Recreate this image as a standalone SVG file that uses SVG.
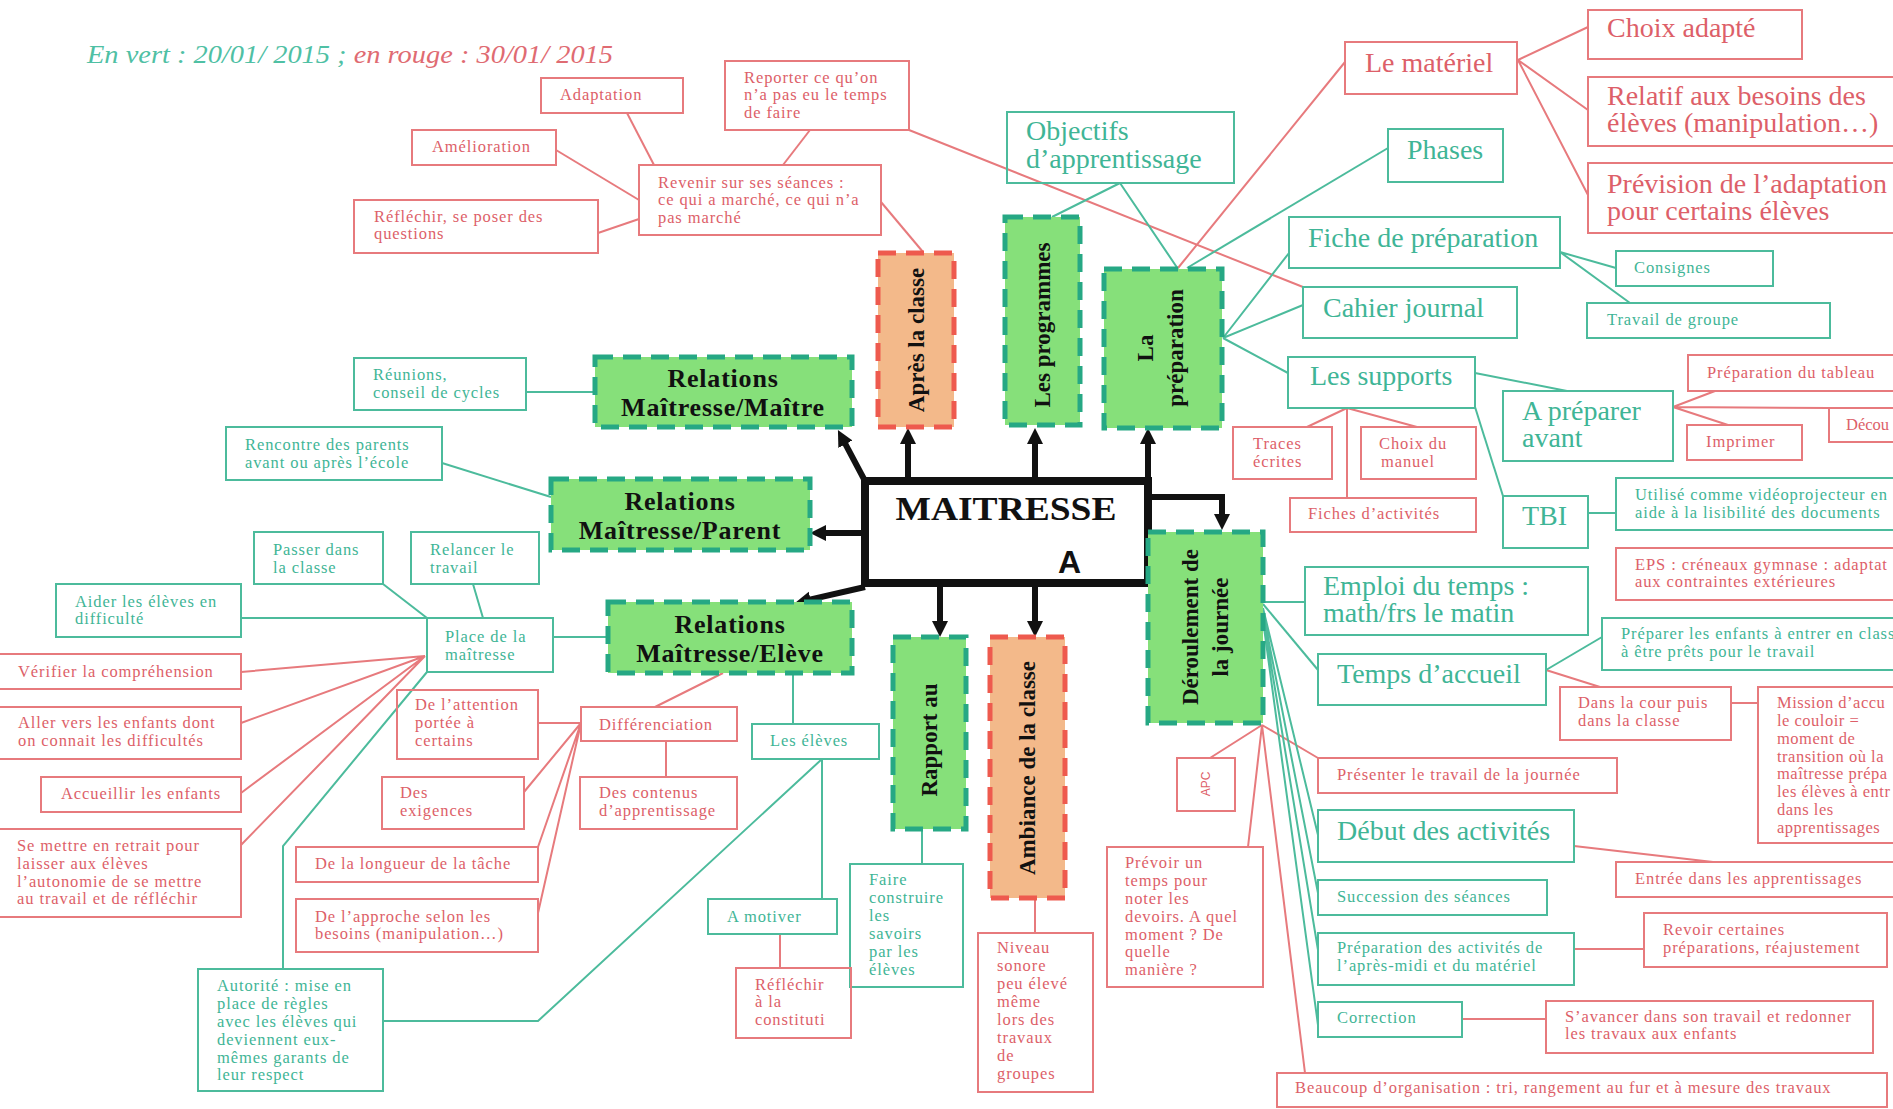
<svg xmlns="http://www.w3.org/2000/svg" width="1893" height="1109" viewBox="0 0 1893 1109">
<style>
text{font-family:"Liberation Serif","Times New Roman",serif}
.t{fill:#3fb596}
.r{fill:#dd5f69}
.s{font-size:16.5px;letter-spacing:0.9px}
.b{font-size:28px}
.bg{fill:none;stroke:#4cbb9c;stroke-width:2}
.br{fill:none;stroke:#e77a7d;stroke-width:2}
.lg{stroke:#4cbb9c;stroke-width:2;fill:none}
.lr{stroke:#e77a7d;stroke-width:2;fill:none}
.ng{fill:#86e07a;stroke:#26a884;stroke-width:5;stroke-dasharray:18 10}
.no{fill:#f3b98a;stroke:#ee5a4e;stroke-width:5;stroke-dasharray:18 10}
.bold{font-weight:bold;font-size:26px;letter-spacing:0.8px;fill:#111;text-anchor:middle}
.rot{font-weight:bold;font-size:23px;fill:#111;text-anchor:middle}
.ar{stroke:#111;stroke-width:6;fill:none}
</style>
<defs>
<marker id="ah" markerUnits="userSpaceOnUse" markerWidth="18" markerHeight="18" refX="2" refY="8" orient="auto">
<path d="M0,0 L16,8 L0,16 z" fill="#111"/>
</marker>
</defs>
<rect width="1893" height="1109" fill="#fff"/>

<g id="title">
<text x="87" y="63" font-size="25" font-style="italic" textLength="526" lengthAdjust="spacingAndGlyphs"><tspan fill="#4fc0a4">En vert : 20/01/ 2015 ; </tspan><tspan fill="#df6b72">en rouge : 30/01/ 2015</tspan></text>
</g>

<g id="connectors">
<g class="lr">
<path d="M627,113 L654,165"/>
<path d="M556,150 L639,200"/>
<path d="M598,233 L639,219"/>
<path d="M810,130 L783,165"/>
<path d="M881,202 L923,252"/>
<path d="M909,130 L1303,287"/>
<path d="M1345,62 L1178,268"/>
<path d="M1518,60 L1588,27 M1518,60 L1588,110 M1518,60 L1588,195"/>
<path d="M1347,408 L1307,427 M1347,408 L1417,427 M1347,408 V498"/>
<path d="M1673,407 L1715,391 M1673,407 L1728,425 M1673,407 L1829,408"/>
<path d="M1546,670 L1600,687"/>
<path d="M1731,703 H1758"/>
<path d="M1262,725 L1210,758 M1262,725 L1248,847 M1262,725 L1305,1073 M1262,725 L1318,758"/>
<path d="M1574,846 L1713,862"/>
<path d="M1574,949 H1644"/>
<path d="M1462,1019 H1546"/>
<path d="M1035,898 V933"/>
<path d="M780,934 V968"/>
<path d="M723,673 L655,707"/>
<path d="M666,741 V777"/>
<path d="M581,723 H538 M581,723 L524,792 M581,723 L538,847 M581,723 L538,913"/>
<path d="M425,656 L241,672 M425,656 L241,723 M425,656 L241,793 M425,656 L241,845"/>
</g>
<g class="lg">
<path d="M1120,183 L1052,217 M1120,183 L1178,269"/>
<path d="M1388,148 L1187,268"/>
<path d="M1223,338 L1289,253 M1223,338 L1303,305 M1223,338 L1288,373"/>
<path d="M1560,252 L1616,268 M1560,252 L1630,303"/>
<path d="M1475,373 L1567,391"/>
<path d="M1475,407 L1503,496"/>
<path d="M1588,513 H1616"/>
<path d="M1263,602 H1305"/>
<path d="M1263,604 L1318,670"/>
<path d="M1546,670 L1602,637"/>
<path d="M1263,608 L1318,835 M1263,612 L1318,893 M1263,616 L1318,950 M1263,620 L1318,1025"/>
<path d="M922,829 V864"/>
<path d="M793,673 V724"/>
<path d="M822,759 V899"/>
<path d="M822,759 L538,1021 H383"/>
<path d="M427,672 L283,846 V969"/>
<path d="M553,637 H608"/>
<path d="M383,584 L427,618"/>
<path d="M473,584 L483,618"/>
<path d="M241,618 H427"/>
<path d="M526,392 H595"/>
<path d="M442,463 L551,497"/>
</g>
<g class="ar" marker-end="url(#ah)">
<path d="M865,481 L844.5,442.4"/>
<path d="M908,481 V442"/>
<path d="M1035,481 V442"/>
<path d="M1148,481 V442"/>
<path d="M1148,497 H1222 V516"/>
<path d="M865,533 H824"/>
<path d="M865,587 L808.6,599.9"/>
<path d="M940,583 V623"/>
<path d="M1035,583 V623"/>
</g>
</g>

<g id="n-maitresse">
<rect x="865" y="481" width="283" height="102" fill="#fff" stroke="#111" stroke-width="8"/>
<text x="1006" y="520" font-size="34" font-weight="bold" text-anchor="middle" fill="#111" textLength="221" lengthAdjust="spacingAndGlyphs">MAITRESSE</text>
<text x="1058" y="573" font-size="32" font-weight="bold" fill="#111" style="font-family:'Liberation Sans',Arial,sans-serif">A</text>
</g>

<g id="n-apres"><rect class="no" x="878" y="253" width="76" height="174"/><text class="rot" x="916" y="348" transform="rotate(-90 916 340)">Après la classe</text></g>
<g id="n-programmes"><rect class="ng" x="1005" y="217" width="75" height="208"/><text class="rot" x="1042" y="333" transform="rotate(-90 1042 325)">Les programmes</text></g>
<g id="n-preparation"><rect class="ng" x="1104" y="269" width="118" height="159"/><text class="rot" transform="rotate(-90 1163 348)"><tspan x="1163" y="338">La</tspan><tspan x="1163" y="368">préparation</tspan></text></g>
<g id="n-relmaitre"><rect class="ng" x="595" y="357" width="257" height="70"/><text class="bold"><tspan x="723" y="387">Relations</tspan><tspan x="723" y="416">Maîtresse/Maître</tspan></text></g>
<g id="n-relparent"><rect class="ng" x="551" y="479" width="259" height="71"/><text class="bold"><tspan x="680" y="510">Relations</tspan><tspan x="680" y="539">Maîtresse/Parent</tspan></text></g>
<g id="n-releleve"><rect class="ng" x="608" y="602" width="244" height="71"/><text class="bold"><tspan x="730" y="633">Relations</tspan><tspan x="730" y="662">Maîtresse/Elève</tspan></text></g>
<g id="n-rapport"><rect class="ng" x="893" y="637" width="73" height="192"/><text class="rot" x="929" y="748" transform="rotate(-90 929 740)">Rapport au</text></g>
<g id="n-ambiance"><rect class="no" x="990" y="637" width="75" height="261"/><text class="rot" x="1027" y="776" transform="rotate(-90 1027 768)">Ambiance de la classe</text></g>
<g id="n-deroulement"><rect class="ng" x="1148" y="532" width="115" height="191"/><text class="rot" transform="rotate(-90 1205 627)"><tspan x="1205" y="620">Déroulement de</tspan><tspan x="1205" y="650">la journée</tspan></text></g>

<g id="n-adaptation"><rect class="br" x="541" y="78" width="142" height="35"/><text class="r s" x="560" y="100">Adaptation</text></g>
<g id="n-amelioration"><rect class="br" x="412" y="130" width="144" height="35"/><text class="r s" x="432" y="152">Amélioration</text></g>
<g id="n-reflechir"><rect class="br" x="354" y="200" width="244" height="53"/><text class="r s"><tspan x="374" y="222">Réfléchir, se poser des</tspan><tspan x="374" y="239">questions</tspan></text></g>
<g id="n-revenir"><rect class="br" x="639" y="165" width="242" height="70"/><text class="r s"><tspan x="658" y="188">Revenir sur ses séances :</tspan><tspan x="658" y="205">ce qui a marché, ce qui n’a</tspan><tspan x="658" y="223">pas marché</tspan></text></g>
<g id="n-reporter"><rect class="br" x="725" y="61" width="184" height="69"/><text class="r s"><tspan x="744" y="83">Reporter ce qu’on</tspan><tspan x="744" y="100">n’a pas eu le temps</tspan><tspan x="744" y="118">de faire</tspan></text></g>

<g id="n-materiel"><rect class="br" x="1345" y="42" width="172" height="52"/><text class="r b" x="1365" y="72">Le matériel</text></g>
<g id="n-choix"><rect class="br" x="1588" y="10" width="214" height="49"/><text class="r b" x="1607" y="37">Choix adapté</text></g>
<g id="n-relatif"><rect class="br" x="1588" y="77" width="310" height="69"/><text class="r b"><tspan x="1607" y="105">Relatif aux besoins des</tspan><tspan x="1607" y="132">élèves (manipulation…)</tspan></text></g>
<g id="n-prevision"><rect class="br" x="1588" y="163" width="310" height="70"/><text class="r b"><tspan x="1607" y="193">Prévision de l’adaptation</tspan><tspan x="1607" y="220">pour certains élèves</tspan></text></g>
<g id="n-objectifs"><rect class="bg" x="1007" y="112" width="227" height="71"/><text class="t b"><tspan x="1026" y="140">Objectifs</tspan><tspan x="1026" y="168">d’apprentissage</tspan></text></g>
<g id="n-phases"><rect class="bg" x="1388" y="129" width="115" height="53"/><text class="t b" x="1407" y="159">Phases</text></g>
<g id="n-fiche"><rect class="bg" x="1289" y="217" width="271" height="51"/><text class="t b" x="1308" y="247">Fiche de préparation</text></g>
<g id="n-cahier"><rect class="bg" x="1303" y="287" width="214" height="51"/><text class="t b" x="1323" y="317">Cahier journal</text></g>
<g id="n-supports"><rect class="bg" x="1288" y="357" width="187" height="51"/><text class="t b" x="1310" y="385">Les supports</text></g>
<g id="n-consignes"><rect class="bg" x="1616" y="251" width="157" height="35"/><text class="t s" x="1634" y="273">Consignes</text></g>
<g id="n-travail"><rect class="bg" x="1587" y="303" width="243" height="35"/><text class="t s" x="1607" y="325">Travail de groupe</text></g>
<g id="n-tableau"><rect class="br" x="1688" y="355" width="210" height="36"/><text class="r s" x="1707" y="378">Préparation du tableau</text></g>
<g id="n-apreparer"><rect class="bg" x="1503" y="391" width="170" height="70"/><text class="t b"><tspan x="1522" y="420">A préparer</tspan><tspan x="1522" y="447">avant</tspan></text></g>
<g id="n-imprimer"><rect class="br" x="1687" y="425" width="115" height="35"/><text class="r s" x="1706" y="447">Imprimer</text></g>
<g id="n-decou"><rect class="br" x="1829" y="408" width="70" height="34"/><text class="r" font-size="16.5" x="1846" y="430">Décou</text></g>
<g id="n-traces"><rect class="br" x="1233" y="427" width="99" height="52"/><text class="r s"><tspan x="1253" y="449">Traces</tspan><tspan x="1253" y="467">écrites</tspan></text></g>
<g id="n-choixmanuel"><rect class="br" x="1361" y="427" width="115" height="52"/><text class="r s"><tspan x="1379" y="449">Choix du</tspan><tspan x="1381" y="467">manuel</tspan></text></g>
<g id="n-fiches"><rect class="br" x="1290" y="498" width="186" height="34"/><text class="r s" x="1308" y="519">Fiches d’activités</text></g>
<g id="n-tbi"><rect class="bg" x="1503" y="496" width="85" height="52"/><text class="t b" x="1522" y="525">TBI</text></g>
<g id="n-utilise"><rect class="bg" x="1616" y="478" width="290" height="52"/><text class="t s"><tspan x="1635" y="500">Utilisé comme vidéoprojecteur en</tspan><tspan x="1635" y="518">aide à la lisibilité des documents</tspan></text></g>
<g id="n-eps"><rect class="br" x="1616" y="548" width="290" height="52"/><text class="r s"><tspan x="1635" y="570">EPS : créneaux gymnase : adaptat</tspan><tspan x="1635" y="587">aux contraintes extérieures</tspan></text></g>
<g id="n-emploi"><rect class="bg" x="1305" y="567" width="283" height="68"/><text class="t b"><tspan x="1323" y="595">Emploi du temps :</tspan><tspan x="1323" y="622">math/frs le matin</tspan></text></g>
<g id="n-temps"><rect class="bg" x="1318" y="654" width="228" height="51"/><text class="t b" x="1337" y="683">Temps d’accueil</text></g>
<g id="n-preparerenfants"><rect class="bg" x="1602" y="618" width="300" height="52"/><text class="t s"><tspan x="1621" y="639">Préparer les enfants à entrer en class</tspan><tspan x="1621" y="657">à être prêts pour le travail</tspan></text></g>
<g id="n-danscour"><rect class="br" x="1560" y="687" width="171" height="53"/><text class="r s"><tspan x="1578" y="708">Dans la cour puis</tspan><tspan x="1578" y="726">dans la classe</tspan></text></g>
<g id="n-mission"><rect class="br" x="1758" y="687" width="150" height="156"/><text class="r" font-size="16.5" letter-spacing="0.5"><tspan x="1777" y="708">Mission d’accu</tspan><tspan x="1777" y="726">le couloir =</tspan><tspan x="1777" y="744">moment de</tspan><tspan x="1777" y="762">transition où la</tspan><tspan x="1777" y="779">maîtresse prépa</tspan><tspan x="1777" y="797">les élèves à entr</tspan><tspan x="1777" y="815">dans les</tspan><tspan x="1777" y="833">apprentissages</tspan></text></g>
<g id="n-apc"><rect class="br" x="1177" y="758" width="58" height="53"/><text class="r" x="1206" y="788" font-size="12" text-anchor="middle" transform="rotate(-90 1206 784)" style="font-family:'Liberation Sans',Arial,sans-serif">APC</text></g>
<g id="n-prevoir"><rect class="br" x="1107" y="847" width="156" height="140"/><text class="r s"><tspan x="1125" y="868">Prévoir un</tspan><tspan x="1125" y="886">temps pour</tspan><tspan x="1125" y="904">noter les</tspan><tspan x="1125" y="922">devoirs. A quel</tspan><tspan x="1125" y="940">moment ? De</tspan><tspan x="1125" y="957">quelle</tspan><tspan x="1125" y="975">manière ?</tspan></text></g>
<g id="n-presenter"><rect class="br" x="1318" y="758" width="299" height="35"/><text class="r s" x="1337" y="780">Présenter le travail de la journée</text></g>
<g id="n-debut"><rect class="bg" x="1318" y="810" width="256" height="52"/><text class="t b" x="1337" y="840">Début des activités</text></g>
<g id="n-entree"><rect class="br" x="1616" y="862" width="290" height="35"/><text class="r s" x="1635" y="884">Entrée dans les apprentissages</text></g>
<g id="n-succession"><rect class="bg" x="1318" y="880" width="229" height="35"/><text class="t s" x="1337" y="902">Succession des séances</text></g>
<g id="n-prepactivites"><rect class="bg" x="1318" y="933" width="256" height="52"/><text class="t s"><tspan x="1337" y="953">Préparation des activités de</tspan><tspan x="1337" y="971">l’après-midi et du matériel</tspan></text></g>
<g id="n-revoir"><rect class="br" x="1644" y="913" width="243" height="54"/><text class="r s"><tspan x="1663" y="935">Revoir certaines</tspan><tspan x="1663" y="953">préparations, réajustement</tspan></text></g>
<g id="n-correction"><rect class="bg" x="1318" y="1002" width="144" height="35"/><text class="t s" x="1337" y="1023">Correction</text></g>
<g id="n-savancer"><rect class="br" x="1546" y="1001" width="327" height="52"/><text class="r s"><tspan x="1565" y="1022">S’avancer dans son travail et redonner</tspan><tspan x="1565" y="1039">les travaux aux enfants</tspan></text></g>
<g id="n-beaucoup"><rect class="br" x="1277" y="1073" width="610" height="34"/><text class="r s" x="1295" y="1093">Beaucoup d’organisation : tri, rangement au fur et à mesure des travaux</text></g>
<g id="n-niveau"><rect class="br" x="978" y="933" width="115" height="159"/><text class="r s"><tspan x="997" y="953">Niveau</tspan><tspan x="997" y="971">sonore</tspan><tspan x="997" y="989">peu élevé</tspan><tspan x="997" y="1007">même</tspan><tspan x="997" y="1025">lors des</tspan><tspan x="997" y="1043">travaux</tspan><tspan x="997" y="1061">de</tspan><tspan x="997" y="1079">groupes</tspan></text></g>
<g id="n-faire"><rect class="bg" x="850" y="864" width="113" height="123"/><text class="t s"><tspan x="869" y="885">Faire</tspan><tspan x="869" y="903">construire</tspan><tspan x="869" y="921">les</tspan><tspan x="869" y="939">savoirs</tspan><tspan x="869" y="957">par les</tspan><tspan x="869" y="975">élèves</tspan></text></g>
<g id="n-reflechir2"><rect class="br" x="736" y="968" width="115" height="70"/><text class="r s"><tspan x="755" y="990">Réfléchir</tspan><tspan x="755" y="1007">à la</tspan><tspan x="755" y="1025">constituti</tspan></text></g>
<g id="n-motiver"><rect class="bg" x="708" y="899" width="129" height="35"/><text class="t s" x="727" y="922">A motiver</text></g>
<g id="n-eleves"><rect class="bg" x="752" y="724" width="127" height="35"/><text class="t s" x="770" y="746">Les élèves</text></g>
<g id="n-autorite"><rect class="bg" x="198" y="969" width="185" height="122"/><text class="t s"><tspan x="217" y="991">Autorité : mise en</tspan><tspan x="217" y="1009">place de règles</tspan><tspan x="217" y="1027">avec les élèves qui</tspan><tspan x="217" y="1045">deviennent eux-</tspan><tspan x="217" y="1063">mêmes garants de</tspan><tspan x="217" y="1080">leur respect</tspan></text></g>
<g id="n-place"><rect class="bg" x="427" y="618" width="126" height="54"/><text class="t s"><tspan x="445" y="642">Place de la</tspan><tspan x="445" y="660">maîtresse</tspan></text></g>
<g id="n-passer"><rect class="bg" x="254" y="532" width="129" height="52"/><text class="t s"><tspan x="273" y="555">Passer dans</tspan><tspan x="273" y="573">la classe</tspan></text></g>
<g id="n-relancer"><rect class="bg" x="411" y="532" width="128" height="52"/><text class="t s"><tspan x="430" y="555">Relancer le</tspan><tspan x="430" y="573">travail</tspan></text></g>
<g id="n-aider"><rect class="bg" x="56" y="584" width="185" height="53"/><text class="t s"><tspan x="75" y="607">Aider les élèves en</tspan><tspan x="75" y="624">difficulté</tspan></text></g>
<g id="n-verifier"><rect class="br" x="-2" y="654" width="243" height="35"/><text class="r s" x="18" y="677">Vérifier la compréhension</text></g>
<g id="n-aller"><rect class="br" x="-2" y="707" width="243" height="52"/><text class="r s"><tspan x="18" y="728">Aller vers les enfants dont</tspan><tspan x="18" y="746">on connait les difficultés</tspan></text></g>
<g id="n-accueillir"><rect class="br" x="41" y="777" width="200" height="35"/><text class="r s" x="61" y="799">Accueillir les enfants</text></g>
<g id="n-retrait"><rect class="br" x="-2" y="829" width="243" height="88"/><text class="r s"><tspan x="17" y="851">Se mettre en retrait pour</tspan><tspan x="17" y="869">laisser aux élèves</tspan><tspan x="17" y="887">l’autonomie de se mettre</tspan><tspan x="17" y="904">au travail et de réfléchir</tspan></text></g>
<g id="n-attention"><rect class="br" x="397" y="690" width="141" height="69"/><text class="r s"><tspan x="415" y="710">De l’attention</tspan><tspan x="415" y="728">portée à</tspan><tspan x="415" y="746">certains</tspan></text></g>
<g id="n-differenciation"><rect class="br" x="581" y="707" width="156" height="34"/><text class="r s" x="599" y="730">Différenciation</text></g>
<g id="n-exigences"><rect class="br" x="382" y="777" width="142" height="52"/><text class="r s"><tspan x="400" y="798">Des</tspan><tspan x="400" y="816">exigences</tspan></text></g>
<g id="n-contenus"><rect class="br" x="580" y="777" width="157" height="52"/><text class="r s"><tspan x="599" y="798">Des contenus</tspan><tspan x="599" y="816">d’apprentissage</tspan></text></g>
<g id="n-longueur"><rect class="br" x="296" y="847" width="242" height="35"/><text class="r s" x="315" y="869">De la longueur de la tâche</text></g>
<g id="n-approche"><rect class="br" x="296" y="899" width="242" height="53"/><text class="r s"><tspan x="315" y="922">De l’approche selon les</tspan><tspan x="315" y="939">besoins (manipulation…)</tspan></text></g>
<g id="n-reunions"><rect class="bg" x="354" y="358" width="172" height="52"/><text class="t s"><tspan x="373" y="380">Réunions,</tspan><tspan x="373" y="398">conseil de cycles</tspan></text></g>
<g id="n-rencontre"><rect class="bg" x="226" y="427" width="216" height="53"/><text class="t s"><tspan x="245" y="450">Rencontre des parents</tspan><tspan x="245" y="468">avant ou après l’école</tspan></text></g>
</svg>
